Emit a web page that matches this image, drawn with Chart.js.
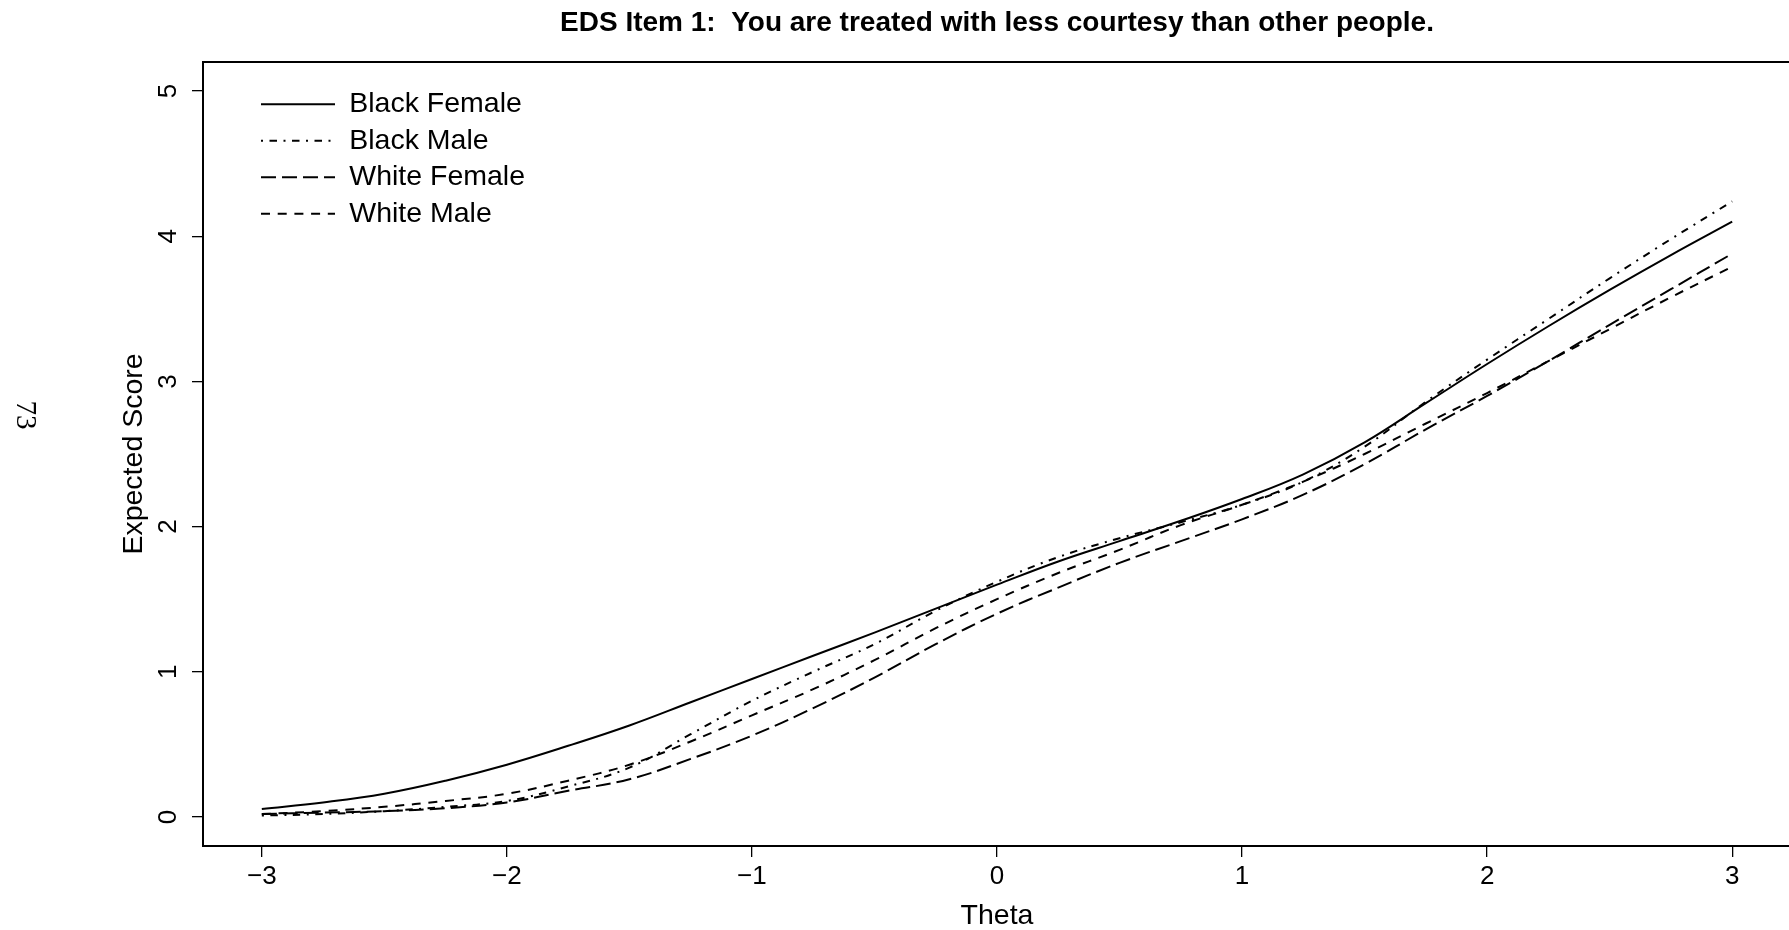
<!DOCTYPE html>
<html>
<head>
<meta charset="utf-8">
<script src="https://cdn.jsdelivr.net/npm/chart.js@4.4.1/dist/chart.umd.min.js"></script>
<style>
  html, body { margin: 0; padding: 0; background: #ffffff; overflow: hidden; }
  canvas { display: block; }
</style>
</head>
<body>
<canvas id="c" width="1792" height="930"></canvas>
<script>
// ---- data ----
const theta = [-3, -2.75, -2.5, -2.25, -2, -1.75, -1.5, -1.25, -1, -0.75, -0.5, -0.25, 0,
               0.25, 0.5, 0.75, 1, 1.25, 1.5, 1.75, 2, 2.25, 2.5, 2.75, 3];
const blackFemale = [0.055, 0.10, 0.16, 0.25, 0.36, 0.49, 0.63, 0.79, 0.95, 1.11, 1.27, 1.435, 1.60,
                     1.76, 1.90, 2.04, 2.19, 2.36, 2.58, 2.85, 3.12, 3.38, 3.63, 3.87, 4.10];
const blackMale   = [0.01, 0.02, 0.04, 0.07, 0.11, 0.21, 0.34, 0.57, 0.80, 1.00, 1.19, 1.42, 1.62,
                     1.79, 1.92, 2.03, 2.15, 2.31, 2.55, 2.86, 3.15, 3.43, 3.71, 3.98, 4.24];
const whiteFemale = [0.02, 0.03, 0.04, 0.06, 0.10, 0.18, 0.26, 0.40, 0.56, 0.75, 0.96, 1.19, 1.40,
                     1.58, 1.75, 1.90, 2.05, 2.22, 2.43, 2.67, 2.90, 3.14, 3.39, 3.635, 3.88];
const whiteMale   = [0.02, 0.04, 0.07, 0.11, 0.16, 0.25, 0.36, 0.52, 0.70, 0.88, 1.08, 1.30, 1.50,
                     1.68, 1.84, 2.01, 2.15, 2.31, 2.50, 2.71, 2.92, 3.14, 3.36, 3.58, 3.79];
const seriesNames = ['Black Female', 'Black Male', 'White Female', 'White Male'];
const xTicks = [-3, -2, -1, 0, 1, 2, 3];
const xTickLabels = ['\u22123', '\u22122', '\u22121', '0', '1', '2', '3'];
const yTicks = [0, 1, 2, 3, 4, 5];
const yTickLabels = ['0', '1', '2', '3', '4', '5'];
const titleText = 'EDS Item 1:  You are treated with less courtesy than other people.';
const xTitle = 'Theta';
const yTitle = 'Expected Score';
const pageNumber = '73';

// ---- styling ----
const SANS = '"Liberation Sans", Arial, Helvetica, sans-serif';
const dashes = [[], [2, 6.5, 7.5, 6.5], [15, 6], [9, 7.7]];
const seriesValues = [blackFemale, blackMale, whiteFemale, whiteMale];
const LEGEND_LINE = 74;

function legendIcon(dash) {
  const c = document.createElement('canvas');
  c.width = LEGEND_LINE; c.height = 4;
  const g = c.getContext('2d');
  g.strokeStyle = '#000000';
  g.lineWidth = 2;
  g.setLineDash(dash);
  g.beginPath();
  g.moveTo(0, 2); g.lineTo(LEGEND_LINE, 2);
  g.stroke();
  return c;
}

const datasets = seriesNames.map((name, i) => ({
  label: name,
  data: theta.map((t, k) => ({ x: t, y: seriesValues[i][k] })),
  borderColor: '#000000',
  backgroundColor: '#000000',
  borderWidth: 2,
  borderDash: dashes[i],
  pointRadius: 0,
  pointHoverRadius: 0,
  pointStyle: legendIcon(dashes[i]),
  fill: false,
  tension: 0.4
}));

const framePlugin = {
  id: 'frame',
  afterLayout(chart) {
    const lg = chart.legend;
    const a = chart.chartArea;
    if (lg) {
      lg.left = 253; lg.top = 82;
      lg.right = a.right; lg.bottom = a.bottom;
    }
  },
  afterDraw(chart) {
    const ctx = chart.ctx;
    const a = chart.chartArea;
    ctx.save();
    ctx.strokeStyle = '#000000';
    ctx.lineWidth = 2;
    ctx.setLineDash([]);
    ctx.strokeRect(a.left, a.top, a.right - a.left, a.bottom - a.top);
    // rotated page number
    ctx.translate(25, 415);
    ctx.rotate(Math.PI / 2);
    ctx.fillStyle = '#000000';
    ctx.font = '29px "Liberation Serif", "Times New Roman", serif';
    ctx.textAlign = 'center';
    ctx.textBaseline = 'middle';
    ctx.fillText(pageNumber, 0, 0);
    ctx.restore();
  }
};

new Chart(document.getElementById('c'), {
  type: 'line',
  data: { datasets },
  plugins: [framePlugin],
  options: {
    responsive: false,
    animation: false,
    layout: { padding: { left: 0, right: 1, top: 0, bottom: 0 } },
    plugins: {
      tooltip: { enabled: false },
      title: {
        display: true,
        text: titleText,
        color: '#000000',
        fullSize: false,
        font: { family: SANS, size: 28, weight: 'bold', lineHeight: 1 },
        padding: { top: 9, bottom: 25 }
      },
      legend: {
        display: true,
        position: 'chartArea',
        align: 'start',
        labels: {
          usePointStyle: true,
          pointStyleWidth: LEGEND_LINE,
          color: '#000000',
          padding: 8,
          font: { family: SANS, size: 28.5, lineHeight: 1 }
        }
      }
    },
    scales: {
      x: {
        type: 'linear',
        min: -3.24,
        max: 3.24,
        afterFit(scale) { scale.height = 84; },
        border: { display: false },
        grid: { display: true, drawOnChartArea: false, drawTicks: true, tickLength: 11, color: '#000000', lineWidth: 1.3 },
        ticks: {
          stepSize: 1,
          includeBounds: false,
          autoSkip: false,
          maxRotation: 0,
          color: '#000000',
          padding: 7,
          font: { family: SANS, size: 26, lineHeight: 1 },
          callback(v) { const i = xTicks.indexOf(v); return i >= 0 ? xTickLabels[i] : ''; }
        },
        title: {
          display: true,
          text: xTitle,
          color: '#000000',
          font: { family: SANS, size: 28.5, lineHeight: 1 },
          padding: { top: 0, bottom: 0 }
        }
      },
      y: {
        type: 'linear',
        min: -0.2,
        max: 5.2,
        afterFit(scale) { scale.width = 203; },
        border: { display: false },
        grid: { display: true, drawOnChartArea: false, drawTicks: true, tickLength: 11, color: '#000000', lineWidth: 1.3 },
        ticks: {
          stepSize: 1,
          includeBounds: false,
          autoSkip: false,
          minRotation: 90,
          maxRotation: 90,
          labelOffset: -7.2,
          color: '#000000',
          padding: 23,
          font: { family: SANS, size: 26, lineHeight: 1 },
          callback(v) { const i = yTicks.indexOf(v); return i >= 0 ? yTickLabels[i] : ''; }
        },
        title: {
          display: true,
          text: yTitle,
          color: '#000000',
          font: { family: SANS, size: 28.5, lineHeight: 1 },
          padding: { top: 120, bottom: 0 }
        }
      }
    }
  }
});
</script>
</body>
</html>
